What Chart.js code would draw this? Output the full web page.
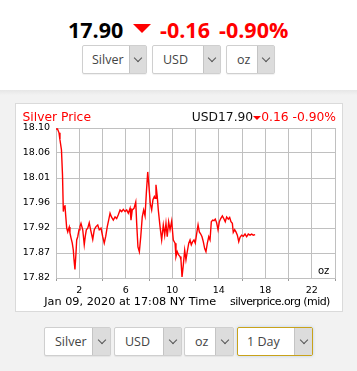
<!DOCTYPE html>
<html>
<head>
<meta charset="utf-8">
<script src="https://cdn.jsdelivr.net/npm/chart.js@4.4.1/dist/chart.umd.min.js"></script>
<style>
  html, body { margin:0; padding:0; }
  body { width:357px; height:371px; background:#f2f2f2; position:relative; overflow:hidden; font-family:"DejaVu Sans", sans-serif; }
  #hdr { position:absolute; left:0; top:0; width:357px; height:90px; background:#fff; }
  #hdrShadow { position:absolute; left:0; top:90px; width:357px; height:5px; background:linear-gradient(#e6e6e6,#f2f2f2); }
  .big { position:absolute; top:19px; font-family:"Open Sans", sans-serif; font-weight:700; font-size:21.5px; line-height:21.5px; white-space:nowrap; }
  .tri { position:absolute; width:0; height:0; border-left:9.5px solid transparent; border-right:9.5px solid transparent; border-top:9.5px solid #ff0000; }
  .sel { position:absolute; box-sizing:border-box; height:29px; background:#fff; border:1px solid #cfcfcf; border-radius:2px;
         font-family:"Open Sans", sans-serif; font-size:12.5px; color:#444; line-height:27px; box-shadow:0 1px 1px rgba(0,0,0,0.06); }
  .sel .arr { position:absolute; right:0; top:0; bottom:0; background:#dcdcdc; border-left:1px solid #c4c4c4; }
  .sel .arr i { position:absolute; left:50%; top:50%; width:5px; height:5px; margin-left:-3px; margin-top:-5px; border-right:1px solid #555; border-bottom:1px solid #555; transform:rotate(45deg); }
  #panel { position:absolute; left:15px; top:103px; width:328px; height:209px; box-sizing:border-box; background:#fff; border:1px solid #dadada; }
  #cwrap { position:absolute; left:16px; top:104px; width:326px; height:207px; }
  .txt { position:absolute; white-space:nowrap; font-family:"DejaVu Sans", sans-serif; }
</style>
</head>
<body>
<div id="hdr"></div>
<div id="hdrShadow"></div>
<div class="big" style="left:68px;color:#000;">17.90</div>
<div class="tri" style="left:133px;top:24px;"></div>
<div class="big" style="left:160px;color:#ff0000;">-0.16</div>
<div class="big" style="left:219px;color:#ff0000;">-0.90%</div>

<div class="sel" style="left:82px;top:45px;width:65px;padding-left:9px;">Silver<span class="arr" style="width:16px;"><i></i></span></div>
<div class="sel" style="left:152px;top:45px;width:69px;padding-left:10px;">USD<span class="arr" style="width:16px;"><i></i></span></div>
<div class="sel" style="left:226px;top:45px;width:49px;padding-left:10px;">oz<span class="arr" style="width:16px;"><i></i></span></div>

<div id="panel"></div>
<div id="cwrap"><canvas id="c" width="326" height="207"></canvas></div>
<div class="txt" style="left:22.5px;top:110px;font-size:12.3px;line-height:14px;color:#ff0000;">Silver Price</div>
<div class="txt" style="right:21px;top:110px;font-size:12.3px;line-height:14px;color:#111;">USD17.90<span style="display:inline-block;width:0;height:0;border-left:4.5px solid transparent;border-right:4.5px solid transparent;border-top:4.5px solid #ff0000;vertical-align:1px;"></span><span style="color:#ff0000;">0.16 -0.90%</span></div>
<div class="txt" style="left:318px;top:264.5px;font-size:10px;line-height:12px;color:#000;">oz</div>
<div class="txt" style="left:44.3px;top:294.6px;font-size:11.25px;line-height:13px;color:#000;">Jan 09, 2020 at 17:08 NY Time</div>
<div class="txt" style="left:230px;top:294.6px;font-size:11px;line-height:13px;letter-spacing:-0.55px;color:#000;">silverprice.org (mid)</div>

<div class="sel" style="left:44px;top:327px;width:67px;padding-left:10px;">Silver<span class="arr" style="width:17px;"><i></i></span></div>
<div class="sel" style="left:114px;top:327px;width:68px;padding-left:10px;">USD<span class="arr" style="width:17px;"><i></i></span></div>
<div class="sel" style="left:184px;top:327px;width:50px;padding-left:10px;">oz<span class="arr" style="width:17px;"><i></i></span></div>
<div class="sel" style="left:237px;top:327px;width:76px;padding-left:9px;border-color:#c9a21a;box-shadow:0 0 3px rgba(120,170,230,0.5);">1 Day<span class="arr" style="width:17px;"><i></i></span></div>

<script>
// hours after midnight (NY time), Jan 09, 2020
const times = [0.00,0.13,0.26,0.34,0.47,0.56,0.63,0.69,0.77,0.83,0.92,1.01,1.06,1.14,1.20,1.29,1.40,1.49,1.55,1.63,1.72,1.78,1.87,1.98,
  2.06,2.15,2.30,2.43,2.52,2.61,2.73,2.86,2.98,3.16,3.29,3.44,3.59,3.72,3.87,4.02,4.15,4.28,4.41,4.53,4.65,4.77,4.93,5.08,5.22,5.36,
  5.51,5.65,5.79,5.94,6.08,6.22,6.37,6.45,6.56,6.71,6.86,6.94,7.05,7.17,7.29,7.42,7.54,7.66,7.77,7.89,8.00,8.11,8.23,8.34,8.46,8.52,
  8.60,8.71,8.80,8.95,9.09,9.23,9.35,9.46,9.57,9.69,9.81,9.95,10.09,10.24,10.32,10.43,10.55,10.67,10.75,10.84,10.95,11.07,11.18,
  11.29,11.42,11.53,11.64,11.76,11.87,11.98,12.10,12.22,12.33,12.45,12.56,12.67,12.79,12.90,13.02,13.14,13.25,13.36,13.48,13.59,
  13.70,13.82,13.94,14.05,14.17,14.31,14.43,14.56,14.68,14.82,14.94,15.05,15.17,15.25,15.37,15.48,15.60,15.72,15.83,15.97,16.11,
  16.26,16.40,16.54,16.69,16.83,16.97,17.13];
// silver price, USD per oz
const prices = [18.101,18.101,18.094,18.081,18.062,18.015,17.947,17.956,17.959,17.941,17.916,17.909,17.913,17.918,17.907,17.898,17.888,17.875,17.857,17.839,17.870,17.894,17.900,17.913,
  17.919,17.925,17.913,17.885,17.901,17.913,17.916,17.926,17.913,17.895,17.913,17.919,17.922,17.913,17.916,17.900,17.888,17.901,17.919,17.931,17.944,17.937,17.931,17.937,17.934,17.941,
  17.950,17.947,17.951,17.947,17.950,17.944,17.953,17.931,17.950,17.953,17.965,17.925,17.881,17.872,17.900,17.937,17.950,17.939,17.981,18.021,17.993,17.962,17.950,17.969,17.975,17.972,
  17.997,17.975,17.950,17.919,17.894,17.922,17.903,17.925,17.900,17.928,17.913,17.929,17.894,17.888,17.863,17.872,17.866,17.863,17.857,17.825,17.847,17.875,17.857,
  17.872,17.888,17.894,17.885,17.891,17.894,17.888,17.906,17.922,17.909,17.905,17.900,17.891,17.878,17.872,17.888,17.900,17.894,17.928,17.931,17.930,
  17.933,17.926,17.913,17.928,17.934,17.939,17.934,17.928,17.937,17.933,17.936,17.928,17.925,17.908,17.913,17.909,17.903,17.891,17.899,17.903,17.901,
  17.905,17.900,17.905,17.903,17.905,17.903,17.904];
const yTickLabels = ['17.82','17.87','17.92','17.96','18.01','18.06','18.10'];
const xLabelHours = [2,6,10,14,18,22];
const yMin = 17.823, yMax = 18.103;

const points = times.map((t,i)=>({x:t, y:prices[i]}));
const gridCol = '#c0c0c0';
const tickFont = {family:'DejaVu Sans', size:9.5};

new Chart(document.getElementById('c'), {
  type:'line',
  data:{ datasets:[{ data:points, borderColor:'#ff0000', borderWidth:1.4, pointRadius:0, tension:0, fill:false }] },
  options:{
    responsive:false, animation:false, events:[],
    layout:{ padding:{ top:24, right:7, left:0, bottom:0 } },
    plugins:{ legend:{display:false}, tooltip:{enabled:false} },
    scales:{
      x:{ type:'linear', min:0, max:24,
          afterFit:(s)=>{ s.height = 33; },
          grid:{ color:gridCol, lineWidth:1, drawTicks:true, tickLength:3,
                 tickColor:(ctx)=> (ctx.tick && ctx.tick.value % 4 === 0) ? '#999' : 'rgba(0,0,0,0)' },
          border:{ color:gridCol },
          ticks:{ stepSize:2, autoSkip:false, maxRotation:0, padding:4, color:'#000', font:tickFont,
                  callback:(v)=> xLabelHours.includes(v) ? String(v) : '' } },
      y:{ type:'linear', min:yMin, max:yMax,
          afterFit:(s)=>{ s.width = 40; },
          afterBuildTicks:(s)=>{ s.ticks = yTickLabels.map((l,i)=>({ value: yMin + i*(yMax-yMin)/(yTickLabels.length-1) })); },
          grid:{ color:gridCol, lineWidth:1, drawTicks:false },
          border:{ color:gridCol },
          ticks:{ padding:6, color:'#000', font:tickFont, callback:(v,i)=> yTickLabels[i] } }
    }
  }
});
</script>
</body>
</html>
